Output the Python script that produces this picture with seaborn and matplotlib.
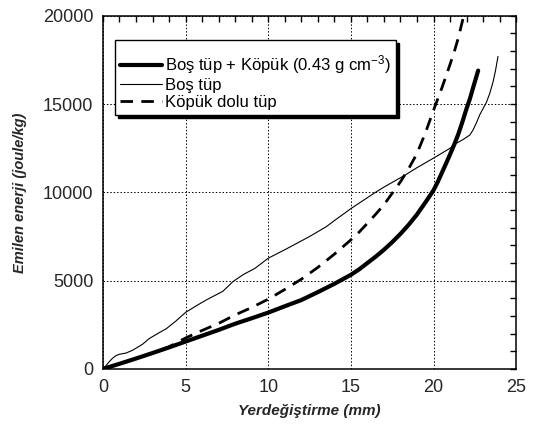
import matplotlib
matplotlib.use('Agg')
import matplotlib.pyplot as plt
import seaborn as sns
from matplotlib.ticker import MultipleLocator

# Boş tüp + Köpük (0.43 g cm-3)
x_kopuk = [0, 1, 2, 3, 4, 5, 6, 7, 8, 9, 10, 11, 12, 13, 14, 15, 15.5, 16, 16.5,
           17, 17.5, 18, 18.5, 19, 19.5, 20, 20.25, 20.5, 20.75, 21, 21.25, 21.5,
           21.75, 22, 22.2, 22.4, 22.55, 22.7]
y_kopuk = [0, 290, 590, 900, 1220, 1550, 1880, 2210, 2560, 2870, 3190, 3550, 3900,
           4350, 4820, 5330, 5640, 6000, 6360, 6750, 7180, 7650, 8170, 8750, 9420,
           10120, 10580, 11100, 11620, 12150, 12700, 13300, 14000, 14750, 15300,
           15950, 16420, 16900]

# Boş tüp
x_bos = [0, 0.2, 0.4, 0.6, 0.8, 1.0, 1.4, 1.8, 2.4, 2.8, 3.4, 3.85, 4.4, 5, 5.6,
         6.26, 7.26, 7.87, 8.5, 9.2, 10, 11, 12, 12.5, 13.5, 14, 15, 16, 16.4, 17,
         18.3, 19, 20, 21, 21.4, 21.8, 22.2, 22.4, 22.6, 22.8, 23.0, 23.2, 23.4,
         23.6, 23.75, 23.9]
y_bos = [0, 200, 430, 620, 760, 830, 900, 1060, 1400, 1720, 2050, 2290, 2700, 3200,
         3550, 3910, 4400, 4950, 5350, 5700, 6270, 6750, 7250, 7500, 8050, 8400,
         9080, 9700, 9950, 10300, 10990, 11400, 11940, 12500, 12790, 13000, 13250,
         13550, 13950, 14400, 14750, 15100, 15600, 16250, 16900, 17700]

# Köpük dolu tüp
x_dolu = [0, 1, 2, 3, 4, 4.5, 5, 6, 7, 8, 9, 10, 11, 12, 13, 14, 15, 15.5, 16, 16.5,
          17, 17.5, 18, 18.5, 19, 19.5, 20, 20.5, 21, 21.25, 21.5, 21.8, 22]
y_dolu = [0, 290, 590, 900, 1250, 1500, 1750, 2180, 2580, 3060, 3480, 3950, 4500,
          5080, 5750, 6500, 7310, 7750, 8250, 8760, 9300, 9950, 10600, 11350, 12200,
          13350, 14650, 15900, 17250, 17950, 18750, 19900, 20700]

labels = ['Boş tüp + Köpük (0.43 g cm$^{-3}$)', 'Boş tüp', 'Köpük dolu tüp']

sns.set_style('white')
plt.rcParams['font.family'] = ['Liberation Sans', 'DejaVu Sans']
plt.rcParams['mathtext.default'] = 'regular'

fig = plt.figure(figsize=(5.36, 4.28), dpi=100)
ax = fig.add_axes([0.192, 0.138, 0.771, 0.825])

sns.lineplot(x=x_dolu, y=y_dolu, color='black', linewidth=2.0,
             linestyle=(0, (4.5, 3)), label=labels[2], ax=ax)
sns.lineplot(x=x_kopuk, y=y_kopuk, color='black', linewidth=3.0, label=labels[0], ax=ax)
sns.lineplot(x=x_bos, y=y_bos, color='black', linewidth=0.8, label=labels[1], ax=ax)

# axes
ax.set_xlim(0, 25)
ax.set_ylim(0, 20000)
ax.xaxis.set_major_locator(MultipleLocator(5))
ax.xaxis.set_minor_locator(MultipleLocator(1))
ax.yaxis.set_major_locator(MultipleLocator(5000))
ax.yaxis.set_minor_locator(MultipleLocator(1000))
ax.tick_params(which='both', direction='in', top=True, right=True,
               color='black', width=1)
ax.tick_params(which='major', length=4, labelsize=13, pad=7)
ax.tick_params(which='minor', length=4)
ax.grid(True, which='major', color='black', linestyle=(0, (1.5, 2)), linewidth=0.7)

for s in ax.spines.values():
    s.set_linewidth(1.1)
    s.set_color('black')

ax.set_xlabel('Yerdeğiştirme (mm)', fontsize=11, fontweight='bold',
              fontstyle='italic', labelpad=6)
ax.set_ylabel('Emilen enerji (joule/kg)', fontsize=10.5, fontweight='bold',
              fontstyle='italic', labelpad=11)

# legend (order as in the reference)
handles, labs = ax.get_legend_handles_labels()
order = [labs.index(l) for l in labels]
leg = ax.legend([handles[i] for i in order], [labs[i] for i in order],
                loc='upper left', bbox_to_anchor=(0.029, 0.932), borderaxespad=0,
                frameon=True, fancybox=False, shadow={'color': 'black', 'alpha': 1},
                edgecolor='black', facecolor='white', framealpha=1, fontsize=12,
                handlelength=2.5, handletextpad=0.2, labelspacing=0.1,
                borderpad=0.3, title=' ', title_fontsize=6)
leg.get_frame().set_linewidth(1)
for t in leg.get_texts():
    t.set_color('black')

fig.savefig('out.png', dpi=100)
plt.close()
